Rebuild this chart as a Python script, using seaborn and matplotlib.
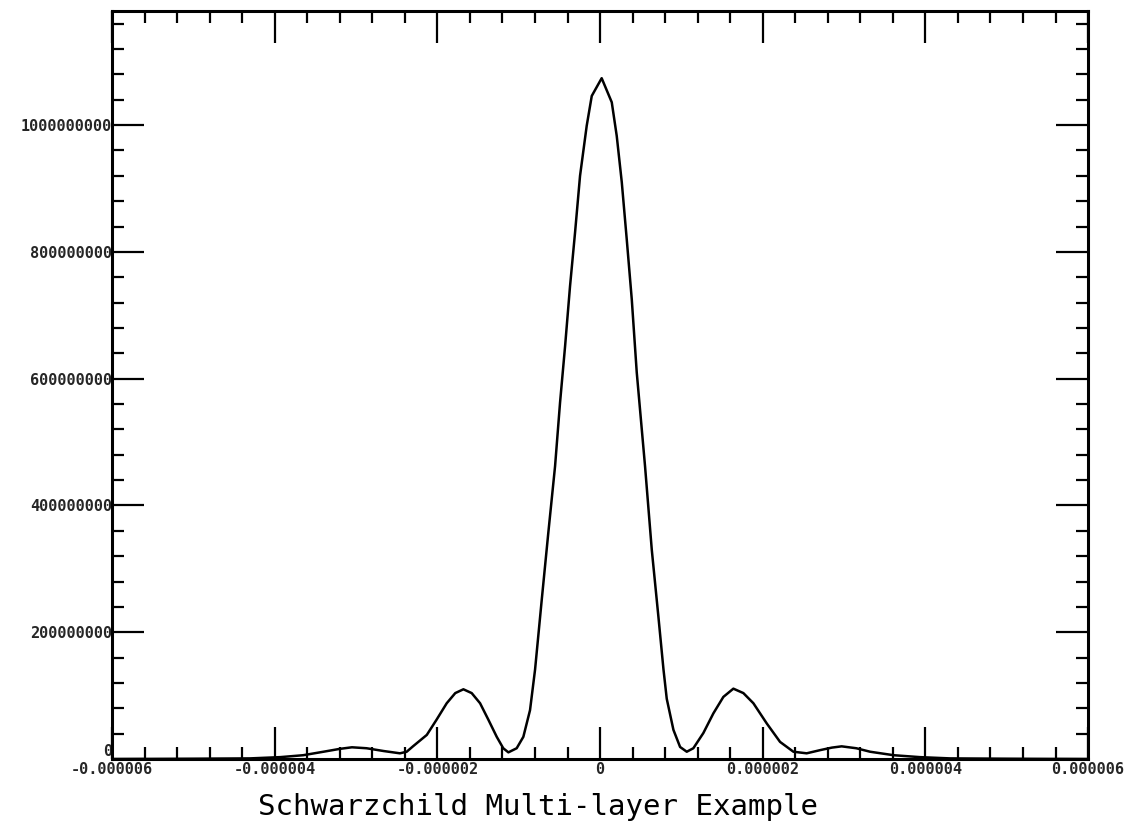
import numpy as np
import pandas as pd
import matplotlib
matplotlib.use("Agg")
import matplotlib.pyplot as plt
import matplotlib.ticker as mticker
import seaborn as sns

# curve (x in metres, y in counts)
x_vals = [-6.0e-6, -5.0e-6, -4.3e-6, -3.93e-6, -3.65e-6, -3.40e-6, -3.20e-6,
          -3.05e-6, -2.87e-6, -2.66e-6, -2.46e-6, -2.377e-6, -2.30e-6,
          -2.13e-6, -2.01e-6, -1.885e-6, -1.78e-6, -1.68e-6, -1.578e-6,
          -1.475e-6, -1.373e-6, -1.27e-6, -1.19e-6, -1.127e-6, -1.025e-6,
          -0.943e-6, -0.861e-6, -0.799e-6, -0.717e-6, -0.636e-6, -0.553e-6,
          -0.492e-6, -0.430e-6, -0.369e-6, -0.307e-6, -0.246e-6, -0.164e-6,
          -0.102e-6, 0.02e-6, 0.144e-6, 0.205e-6, 0.267e-6, 0.328e-6, 0.390e-6,
          0.451e-6, 0.553e-6, 0.636e-6, 0.717e-6, 0.78e-6, 0.820e-6, 0.902e-6,
          0.984e-6, 1.066e-6, 1.147e-6, 1.27e-6, 1.393e-6, 1.516e-6, 1.639e-6,
          1.762e-6, 1.885e-6, 2.05e-6, 2.213e-6, 2.377e-6, 2.54e-6, 2.705e-6,
          2.85e-6, 2.97e-6, 3.15e-6, 3.32e-6, 3.61e-6, 3.93e-6, 4.3e-6,
          5.0e-6, 6.0e-6]
y_vals = [0.0, 0.5e6, 1.0e6, 3.0e6, 6.0e6, 11.5e6, 16e6,
          18.5e6, 17e6, 12.6e6, 9e6, 11.5e6, 20e6,
          38e6, 62e6, 88e6, 104e6, 110e6, 104e6,
          88e6, 62e6, 35e6, 17e6, 10.5e6, 17e6,
          35e6, 77e6, 141e6, 251e6, 357e6, 462e6,
          562e6, 651e6, 746e6, 831e6, 920e6, 999e6,
          1046e6, 1074e6, 1036e6, 983e6, 910e6, 820e6, 725e6,
          610e6, 462e6, 330e6, 225e6, 141e6, 95e6, 46e6,
          19e6, 11.5e6, 17e6, 41e6, 72e6, 98e6, 111e6,
          104e6, 88e6, 56e6, 27e6, 11.5e6, 9e6, 14e6,
          18e6, 20e6, 17e6, 11.5e6, 6e6, 3e6, 1e6,
          0.5e6, 0.0]

xticks = [-6e-6, -4e-6, -2e-6, 0, 2e-6, 4e-6, 6e-6]
xtick_labels = ["-0.000006", "-0.000004", "-0.000002", "0",
                "0.000002", "0.000004", "0.000006"]
yticks = [0, 200000000, 400000000, 600000000, 800000000, 1000000000]
ytick_labels = ["0", "200000000", "400000000", "600000000",
                "800000000", "1000000000"]
title = "Schwarzchild Multi-layer Example"

df = pd.DataFrame({"x": x_vals, "y": y_vals})

sns.set_style("white")
fig = plt.figure(figsize=(11.37, 8.27), dpi=100)
ax = fig.add_axes([0.0985, 0.0822, 0.8585, 0.9045])

sns.lineplot(data=df, x="x", y="y", ax=ax, color="black", linewidth=1.8,
             estimator=None, sort=False)

ax.set_xlim(-6e-6, 6e-6)
ax.set_ylim(0, 1.18e9)
ax.set_xlabel("")
ax.set_ylabel("")

ax.set_xticks(xticks)
ax.set_xticklabels(xtick_labels)
ax.set_yticks(yticks)
ax.set_yticklabels(ytick_labels)
ax.xaxis.set_minor_locator(mticker.MultipleLocator(0.4e-6))
ax.yaxis.set_minor_locator(mticker.MultipleLocator(4e7))

for side in ["left", "right", "top", "bottom"]:
    ax.spines[side].set_visible(True)
    ax.spines[side].set_linewidth(2.2)
    ax.spines[side].set_color("black")

ax.tick_params(which="both", direction="in", top=True, right=True,
               bottom=True, left=True, color="black", width=1.6)
ax.tick_params(which="major", length=23)
ax.tick_params(which="minor", length=8.5)
ax.tick_params(axis="y", pad=0)
ax.tick_params(axis="x", pad=2.5)

for lab in ax.get_xticklabels() + ax.get_yticklabels():
    lab.set_family("DejaVu Sans Mono")
    lab.set_fontweight("bold")
    lab.set_fontsize(11)
# the "0" on the y axis sits just above the x labels
ax.get_yticklabels()[0].set_va("bottom")

fig.text(258 / 1137, 1 - 815 / 827, title, family="DejaVu Sans Mono",
         fontsize=21, ha="left", va="baseline", color="black")

fig.savefig("out.png", dpi=100, facecolor="white")
